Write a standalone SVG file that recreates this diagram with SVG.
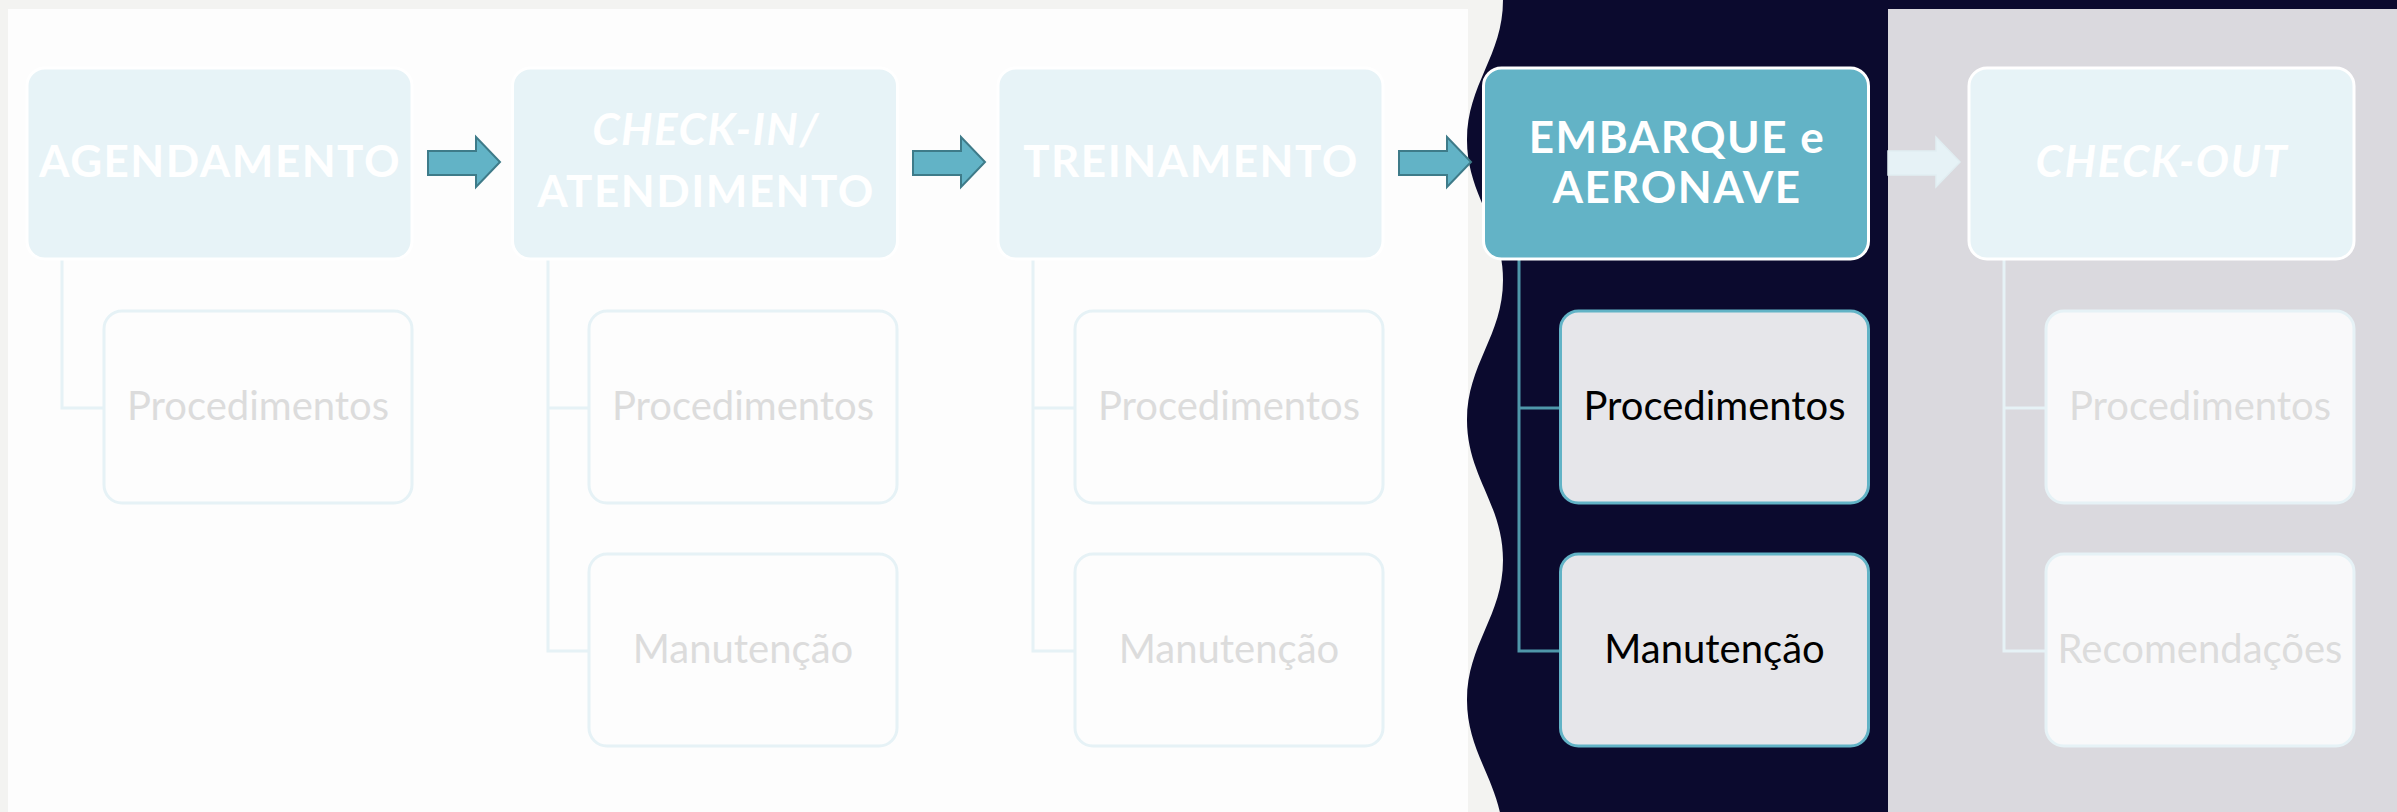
<svg xmlns="http://www.w3.org/2000/svg" width="2397" height="812" viewBox="0 0 2397 812">
<style>
.main{fill:#e7f3f7;stroke:#ffffff;stroke-width:3}
.sub{fill:#fdfdfd;stroke:#e6f2f6;stroke-width:3}
.subg{fill:#f9f9fa;stroke:#e6f2f6;stroke-width:3}
.suba{fill:#e6e6ea;stroke:#62b3c6;stroke-width:3}
.mainA{fill:#63b3c6;stroke:#ffffff;stroke-width:3}
.t{font-family:Lato,"Open Sans","Liberation Sans",sans-serif;font-weight:700;fill:#ffffff;text-anchor:middle;font-size:44px;letter-spacing:1.5px}
.ti{font-style:italic}
.s{font-family:Lato,"Open Sans","Liberation Sans",sans-serif;fill:#dcdcdc;text-anchor:middle;font-size:40px}
.sa{fill:#000000}
.c{fill:none;stroke:#e6f2f6;stroke-width:3}
.ca{fill:none;stroke:#4f97aa;stroke-width:3}
.ar{fill:#62b3c6;stroke:#3e7b89;stroke-width:2}
.arf{fill:#e6f2f6;stroke:#e1eef2;stroke-width:1.5}
</style>
<rect x="0" y="0" width="2397" height="812" fill="#f3f3f1"/>
<rect x="8" y="9" width="1460" height="803" fill="#fdfdfd"/>
<path d="M1503,0 C1503,56 1467,84 1467,140 C1467,196 1503,224 1503,280 C1503,336 1467,364 1467,420 C1467,476 1503,504 1503,560 C1503,616 1467,644 1467,700 C1467,756 1503,784 1503,840 L2397,840 L2397,0 Z" fill="#0b0a2e"/>
<rect x="1888" y="9" width="509" height="803" fill="#dad9de"/>
<g id="connectors">
<path class="c" d="M62,259 V408 H104"/>
<path class="c" d="M548,259 V651 H589 M548,408 H589"/>
<path class="c" d="M1033,259 V651 H1075 M1033,408 H1075"/>
<path class="ca" d="M1519,259 V651 H1560 M1519,408 H1560"/>
<path class="c" d="M2004,259 V651 H2046 M2004,408 H2046"/>
<path class="ar" d="M428,151 H476 V137 L500,162 L476,187 V175 H428 Z"/>
<path class="ar" d="M913,151 H961 V137 L985,162 L961,187 V175 H913 Z"/>
<path class="ar" d="M1399,151 H1447 V137 L1471,162 L1447,187 V175 H1399 Z"/>
<path class="arf" d="M1888,151 H1936 V137 L1960,162 L1936,187 V175 H1888 Z"/>
</g>
<g id="agendamento">
<rect class="main" x="27" y="68" width="385" height="191" rx="18"/>
<text class="t" x="220" y="177">AGENDAMENTO</text>
</g>
<g id="agendamento-proc">
<rect class="sub" x="104" y="311" width="308" height="192" rx="18"/>
<text class="s" x="258" y="420">Procedimentos</text>
</g>
<g id="checkin">
<rect class="main" x="512.5" y="68" width="385" height="191" rx="18"/>
<text class="t" x="706" y="145"><tspan class="ti">CHECK-IN/</tspan></text>
<text class="t" x="706" y="207">ATENDIMENTO</text>
</g>
<g id="checkin-proc">
<rect class="sub" x="589" y="311" width="308" height="192" rx="18"/>
<text class="s" x="743" y="420">Procedimentos</text>
</g>
<g id="checkin-man">
<rect class="sub" x="589" y="554" width="308" height="192" rx="18"/>
<text class="s" x="743" y="663">Manutenção</text>
</g>
<g id="treinamento">
<rect class="main" x="998" y="68" width="385" height="191" rx="18"/>
<text class="t" x="1191" y="177">TREINAMENTO</text>
</g>
<g id="treinamento-proc">
<rect class="sub" x="1075" y="311" width="308" height="192" rx="18"/>
<text class="s" x="1229" y="420">Procedimentos</text>
</g>
<g id="treinamento-man">
<rect class="sub" x="1075" y="554" width="308" height="192" rx="18"/>
<text class="s" x="1229" y="663">Manutenção</text>
</g>
<g id="embarque">
<rect class="mainA" x="1483.5" y="68" width="385" height="191" rx="18"/>
<text class="t" x="1677" y="153">EMBARQUE e</text>
<text class="t" x="1677" y="203">AERONAVE</text>
</g>
<g id="embarque-proc">
<rect class="suba" x="1560.5" y="311" width="308" height="192" rx="18"/>
<text class="s sa" x="1714.5" y="420">Procedimentos</text>
</g>
<g id="embarque-man">
<rect class="suba" x="1560.5" y="554" width="308" height="192" rx="18"/>
<text class="s sa" x="1714.5" y="663">Manutenção</text>
</g>
<g id="checkout">
<rect class="main" x="1969" y="68" width="385" height="191" rx="18"/>
<text class="t ti" x="2162" y="177">CHECK-OUT</text>
</g>
<g id="checkout-proc">
<rect class="subg" x="2046" y="311" width="308" height="192" rx="18"/>
<text class="s" x="2200" y="420">Procedimentos</text>
</g>
<g id="checkout-rec">
<rect class="subg" x="2046" y="554" width="308" height="192" rx="18"/>
<text class="s" x="2200" y="663">Recomendações</text>
</g>
</svg>
